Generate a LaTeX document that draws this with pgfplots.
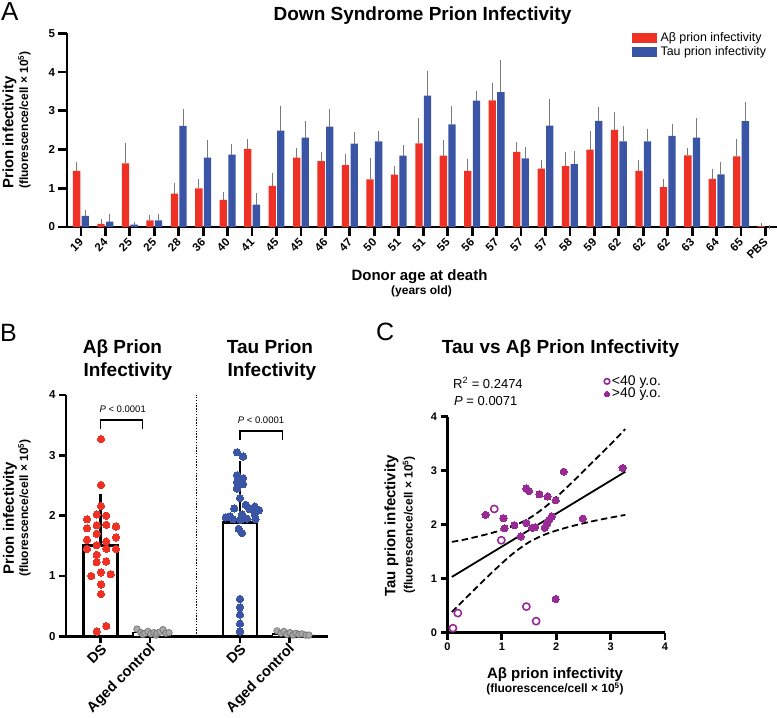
\documentclass[border=0pt]{standalone}
\usepackage{pgfplots}
\usepackage{pgfplotstable}
\pgfplotsset{compat=1.18}
\usepackage{fontspec}
\setmainfont{Liberation Sans}
\definecolor{cred}{HTML}{EE3124}
\definecolor{cblue}{HTML}{3A55A5}
\definecolor{cpurp}{HTML}{982A95}
\definecolor{cgray}{HTML}{A8A8A8}
\definecolor{cgrayd}{HTML}{6E6E6E}
\definecolor{errg}{HTML}{7A7A7A}
\newcommand{\fs}[1]{\fontsize{#1}{#1}\selectfont}

% Panel A: index, Abeta mean, Abeta +err, Tau mean, Tau +err
\pgfplotstableread{
i r re b be
0 1.45 0.17 0.29 0.09
1 0.08 0.08 0.14 0.16
2 1.64 0.47 0.06 0.03
3 0.17 0.09 0.17 0.13
4 0.86 0.23 2.61 0.39
5 1.00 0.19 1.79 0.40
6 0.70 0.15 1.87 0.23
7 2.02 0.20 0.58 0.24
8 1.06 0.28 2.49 0.60
9 1.79 0.20 2.31 0.39
10 1.70 0.20 2.59 0.41
11 1.60 0.24 2.15 0.25
12 1.23 0.51 2.21 0.23
13 1.35 0.19 1.84 0.24
14 2.16 0.61 3.39 0.60
15 1.84 0.36 2.65 0.43
16 1.45 0.26 3.26 0.20
17 3.27 0.41 3.48 0.78
18 1.94 0.21 1.77 0.24
19 1.51 0.17 2.62 0.64
20 1.57 0.33 1.62 0.29
21 2.00 0.42 2.74 0.32
22 2.51 0.41 2.21 0.34
23 1.45 0.24 2.21 0.28
24 1.03 0.17 2.35 0.27
25 1.85 0.14 2.31 0.46
26 1.24 0.21 1.36 0.27
27 1.82 0.41 2.73 0.44
28 0.02 0.03 0.00 0.00
}\dataA

% Panel B: Abeta DS points (x position in px-units, value)
\pgfplotstableread{
x y
35 3.27
35 2.51
35 2.16
40.3 2.00
30.7 2.02
21 1.94
30.7 1.84
40.3 1.85
50 1.82
21 1.79
30.7 1.70
50 1.64
21 1.60
40.3 1.57
30.7 1.51
21 1.45
40.3 1.45
50 1.45
30.7 1.35
30.7 1.23
40.3 1.24
35 1.06
44.7 1.03
25.3 1.00
35 0.86
35 0.70
40.3 0.17
30.7 0.08
}\dataBr

\pgfplotstableread{
x y
171 3.05
177 2.98
171 2.67
177 2.62
171 2.56
177 2.52
171 2.45
174 2.29
179.7 2.18
188.7 2.15
168.3 2.12
183.5 2.11
193 2.09
188.7 2.03
176 2.02
164 1.99
159.7 1.97
181 1.95
167 1.94
189.5 1.94
174.5 1.93
172.7 1.78
176 1.71
174 0.62
174 0.48
174 0.36
174 0.21
174 0.08
}\dataBb

\pgfplotstableread{
x y
71 0.12
75 0.06
77 0.03
79 0.05
82 0.08
85 0.04
88 0.06
90 0.02
91 0.05
94 0.07
97 0.11
100 0.05
103 0.06
}\dataBga

\pgfplotstableread{
x y
211 0.09
215 0.05
218 0.08
221 0.03
224 0.06
227 0.02
230 0.05
233 0.03
236 0.04
240 0.02
243 0.02
}\dataBgt

% Panel C
\pgfplotstableread{
x y
0.10 0.08
0.19 0.36
0.86 2.29
0.99 1.71
1.45 0.48
1.63 0.21
}\dataCo

\pgfplotstableread{
x y
0.70 2.18
1.03 2.12
1.05 1.93
1.23 1.99
1.35 1.78
1.45 2.67
1.50 2.62
1.45 2.03
1.56 1.94
1.61 1.95
1.69 2.56
1.84 2.52
1.79 1.94
1.83 2.02
1.87 2.09
1.92 2.15
1.99 2.45
2.14 2.98
1.99 0.62
2.49 2.11
3.22 3.05
1.81 1.98
}\dataCf

\pgfplotsset{
  myaxis/.style={
    scale only axis, clip=false,
    axis x line=bottom, axis y line=left,
    axis line style={-, line width=2.8pt, black},
    tick align=outside, major tick length=7pt,
    tick style={black, line width=2.8pt},
    major tick style={black, line width=2.8pt},
    /pgf/number format/assume math mode=true,
    yticklabel style={font=\fs{11.5}\bfseries},
  },
}

\begin{document}
\begin{tikzpicture}
\useasboundingbox (0pt,0pt) rectangle (777pt,-718pt);

%================ Panel A ================
\node[anchor=base west, font=\fs{26}, inner sep=0pt] at (1pt,-20.7pt) {A};
\node[anchor=base, font=\fs{19}\bfseries, inner sep=0pt] at (422.5pt,-20.7pt) {Down Syndrome Prion Infectivity};
\node[rotate=90, font=\fs{15}\bfseries, inner sep=0pt] at (9.5pt,-132.5pt) {Prion infectivity};
\node[rotate=90, font=\fs{12}\bfseries, inner sep=0pt] at (24.5pt,-120pt) {(fluorescence/cell × 10\textsuperscript{5})};
\node[anchor=base, font=\fs{15}\bfseries, inner sep=0pt] at (419.5pt,-280pt) {Donor age at death};
\node[anchor=base, font=\fs{12}\bfseries, inner sep=0pt] at (421.5pt,-294pt) {(years old)};

\begin{axis}[myaxis,
  at={(67pt,-227pt)}, anchor=south west,
  width=710pt, height=193.7pt,
  xmin=-0.57, xmax=28.47, ymin=0, ymax=5,
  ytick={0,1,2,3,4,5},
  xtick={0,...,28},
  major tick length=8.5pt,
  xticklabels={19,24,25,25,28,36,40,41,45,45,46,47,50,51,51,55,56,57,57,57,58,59,62,62,62,63,64,65,PBS},
  xticklabel style={yshift=-4pt, xshift=1pt, rotate=45, anchor=east, font=\fs{11.5}\bfseries, inner sep=1pt},
  legend style={draw=none, fill=none, at={(axis description cs:0.7958,1.012)}, anchor=north west,
    font=\fs{12.4}, row sep=2pt, column sep=3pt, inner sep=0pt, nodes={inner sep=1pt}},
  legend cell align=left,
]
\addplot[ybar, bar width=7.3pt, bar shift=0pt, fill=cred, draw=none, forget plot,
  error bars/.cd, y dir=plus, y explicit,
  error bar style={errg, line width=1pt},
  error mark options={errg, line width=1pt, mark size=1.8pt}]
  table[x expr=\thisrow{i}-0.176, y=r, y error=re] {\dataA};
\addplot[ybar, bar width=7.3pt, bar shift=0pt, fill=cblue, draw=none, forget plot,
  error bars/.cd, y dir=plus, y explicit,
  error bar style={errg, line width=1pt},
  error mark options={errg, line width=1pt, mark size=1.8pt}]
  table[x expr=\thisrow{i}+0.176, y=b, y error=be] {\dataA};
\addlegendimage{legend image code/.code={\fill[cred] (0pt,-4.5pt) rectangle (24pt,4.5pt);}}
\addlegendentry{Aβ prion infectivity}
\addlegendimage{legend image code/.code={\fill[cblue] (0pt,-4.5pt) rectangle (24pt,4.5pt);}}
\addlegendentry{Tau prion infectivity}
\end{axis}

%================ Panel B ================
\node[anchor=base west, font=\fs{25}, inner sep=0pt] at (0pt,-341pt) {B};
\node[anchor=base west, font=\fs{19}\bfseries, inner sep=0pt] at (82.7pt,-353.3pt) {Aβ Prion};
\node[anchor=base west, font=\fs{19}\bfseries, inner sep=0pt] at (83.3pt,-376pt) {Infectivity};
\node[anchor=base west, font=\fs{19}\bfseries, inner sep=0pt] at (226.7pt,-353.3pt) {Tau Prion};
\node[anchor=base west, font=\fs{19}\bfseries, inner sep=0pt] at (227.3pt,-376pt) {Infectivity};
\node[rotate=90, font=\fs{15}\bfseries, inner sep=0pt] at (10pt,-518pt) {Prion infectivity};
\node[rotate=90, font=\fs{12}\bfseries, inner sep=0pt] at (24.5pt,-508pt) {(fluorescence/cell × 10\textsuperscript{5})};

\begin{axis}[myaxis,
  at={(66pt,-636.3pt)}, anchor=south west,
  width=262pt, height=241.3pt,
  xmin=0, xmax=262, ymin=0, ymax=4,
  ytick={0,1,2,3,4},
  xtick={34.7,84,174,223.3},
  xticklabels={DS,Aged control,DS,Aged control},
  xticklabel style={yshift=-3pt, xshift=4pt, rotate=45, anchor=east, font=\fs{14.5}\bfseries, inner sep=1pt},
]
\draw[black, line width=1.4pt, dash pattern=on 1.4pt off 1.4pt] (axis cs:130.7,0) -- (axis cs:130.7,4);
\addplot[ybar, bar width=34pt, bar shift=0pt, fill=white, draw=black, line width=2.6pt]
  coordinates {(34.7,1.51) (174,1.89)};
\addplot[ybar, bar width=34pt, bar shift=0pt, fill=white, draw=black, line width=1.4pt]
  coordinates {(84,0.06) (223.3,0.04)};
\addplot[draw=none, mark=none,
  error bars/.cd, y dir=plus, y explicit,
  error bar style={draw=black, line width=2.6pt},
  error mark options={draw=black, line width=2.6pt, mark size=12pt}]
  coordinates {(34.7,1.51) +- (0,0.65) (174,1.89) +- (0,0.81)};
\addplot[only marks, mark=*, mark size=3.65pt, mark options={fill=cred, draw=cred, line width=0pt}]
  table[x=x, y=y] {\dataBr};
\addplot[only marks, mark=*, mark size=3.65pt, mark options={fill=cblue, draw=cblue, line width=0pt}]
  table[x=x, y=y] {\dataBb};
\addplot[only marks, mark=*, mark size=3.3pt, mark options={fill=cgray, draw=cgrayd, line width=0.6pt}]
  table[x=x, y=y] {\dataBga};
\addplot[only marks, mark=*, mark size=3.3pt, mark options={fill=cgray, draw=cgrayd, line width=0.6pt}]
  table[x=x, y=y] {\dataBgt};
\draw[line width=1.5pt] (axis cs:34.7,3.433) -- (axis cs:34.7,3.587) -- (axis cs:76.7,3.587) -- (axis cs:76.7,3.433);
\draw[line width=1.5pt] (axis cs:174,3.25) -- (axis cs:174,3.405) -- (axis cs:216.3,3.405) -- (axis cs:216.3,3.25);
\node[font=\fs{9.5}, inner sep=0pt] at (axis cs:56.7,3.765) {\textit{P} < 0.0001};
\node[font=\fs{9.5}, inner sep=0pt] at (axis cs:195,3.58) {\textit{P} < 0.0001};
\end{axis}

%================ Panel C ================
\node[anchor=base west, font=\fs{25}, inner sep=0pt] at (376pt,-340pt) {C};
\node[anchor=base west, font=\fs{19}\bfseries, inner sep=0pt] at (441.7pt,-353pt) {Tau vs Aβ Prion Infectivity};
\node[anchor=base west, font=\fs{13}, inner sep=0pt] at (453pt,-388pt) {R\textsuperscript{2} = 0.2474};
\node[anchor=base west, font=\fs{13}, inner sep=0pt] at (454pt,-405pt) {\textit{P} = 0.0071};
\node[rotate=90, font=\fs{15}\bfseries, inner sep=0pt] at (391.5pt,-526pt) {Tau prion infectivity};
\node[rotate=90, font=\fs{12}\bfseries, inner sep=0pt] at (409pt,-525pt) {(fluorescence/cell × 10\textsuperscript{5})};
\node[anchor=base, font=\fs{15}\bfseries, inner sep=0pt] at (555pt,-678.3pt) {Aβ prion infectivity};
\node[anchor=base, font=\fs{12}\bfseries, inner sep=0pt] at (555pt,-692.5pt) {(fluorescence/cell × 10\textsuperscript{5})};

\begin{axis}[myaxis,
  at={(447.5pt,-632.5pt)}, anchor=south west,
  width=217.5pt, height=215.8pt,
  xmin=0, xmax=4, ymin=0, ymax=4,
  xtick={0,1,2,3,4}, ytick={0,1,2,3,4},
  xticklabel style={font=\fs{11}\bfseries},
  yticklabel style={font=\fs{11}\bfseries},
  legend style={draw=none, fill=none, at={(axis description cs:0.7195,1.1936)}, anchor=north west,
    font=\fs{14}, row sep=0pt, column sep=1.5pt, inner sep=0pt, nodes={inner sep=0.6pt}},
  legend cell align=left,
  legend image code/.code={\draw[#1] plot coordinates {(0pt,0pt)};},
]
\addplot[black, line width=1.8pt, forget plot] coordinates {(0.08,1.03) (3.27,2.98)};
\addplot[black, line width=1.8pt, dash pattern=on 6.5pt off 3.5pt, smooth, forget plot] coordinates {
 (0.08,1.68) (0.3,1.72) (0.6,1.79) (0.9,1.87) (1.2,1.97) (1.5,2.115) (1.8,2.33) (2.1,2.60) (2.4,2.89) (2.7,3.19) (3.0,3.49) (3.27,3.77)};
\addplot[black, line width=1.8pt, dash pattern=on 6.5pt off 3.5pt, smooth, forget plot] coordinates {
 (0.08,0.38) (0.3,0.60) (0.6,0.90) (0.9,1.19) (1.2,1.46) (1.5,1.675) (1.8,1.82) (2.1,1.92) (2.4,2.00) (2.7,2.07) (3.0,2.13) (3.27,2.18)};
\addplot[only marks, mark=o, mark size=3.6pt, mark options={draw=cpurp, line width=1.6pt},
  legend image post style={mark size=2.8pt}]
  table[x=x, y=y] {\dataCo};
\addlegendentry{<40 y.o.}
\addplot[only marks, mark=*, mark size=3.6pt, mark options={fill=cpurp, draw=cpurp, line width=0pt},
  legend image post style={mark size=2.6pt}]
  table[x=x, y=y] {\dataCf};
\addlegendentry{>40 y.o.}
\end{axis}
\end{tikzpicture}
\end{document}
